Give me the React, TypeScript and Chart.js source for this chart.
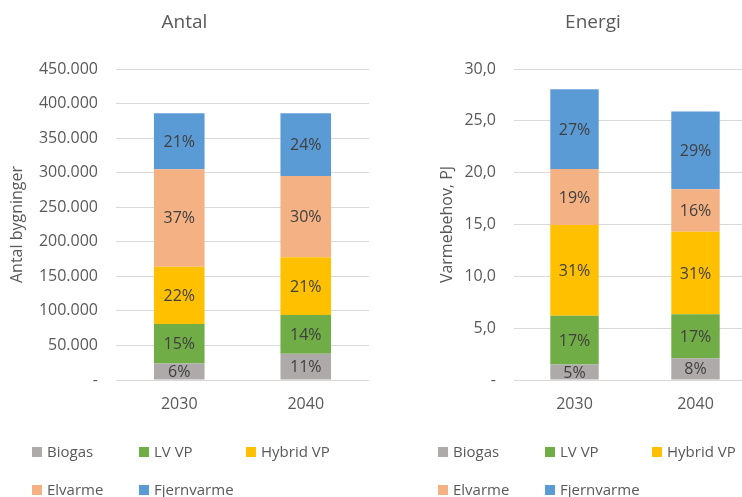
import React, { useEffect, useRef } from 'react';
import { Chart, registerables } from 'chart.js';

Chart.register(...registerables);

const FONT = "'Open Sans', 'DejaVu Sans', sans-serif";
const TEXT = '#595959';
const LABEL = '#404040';
const GRID = '#D9D9D9';

const categories = ['2030', '2040'];
const seriesNames = ['Biogas', 'LV VP', 'Hybrid VP', 'Elvarme', 'Fjernvarme'];
const seriesColors = ['#AEAAAA', '#70AD47', '#FFC000', '#F4B183', '#5B9BD5'];

// Antal (number of buildings)
const antalBiogas = [24000, 38000];
const antalLvVp = [57000, 56000];
const antalHybridVp = [83000, 83500];
const antalElvarme = [141000, 117500];
const antalFjernvarme = [81000, 91000];
const antalPctBiogas = ['6%', '11%'];
const antalPctLvVp = ['15%', '14%'];
const antalPctHybridVp = ['22%', '21%'];
const antalPctElvarme = ['37%', '30%'];
const antalPctFjernvarme = ['21%', '24%'];
const antalAxisMax = 450000;
const antalAxisStep = 50000;

// Energi (PJ)
const energiBiogas = [1.5, 2.1];
const energiLvVp = [4.7, 4.25];
const energiHybridVp = [8.75, 7.95];
const energiElvarme = [5.4, 4.1];
const energiFjernvarme = [7.7, 7.5];
const energiPctBiogas = ['5%', '8%'];
const energiPctLvVp = ['17%', '17%'];
const energiPctHybridVp = ['31%', '31%'];
const energiPctElvarme = ['19%', '16%'];
const energiPctFjernvarme = ['27%', '29%'];
const energiAxisMax = 30;
const energiAxisStep = 5;

const fmtThousands = (v: number) =>
  v === 0 ? '-' : String(Math.round(v)).replace(/\B(?=(\d{3})+(?!\d))/g, '.');
const fmtDecimal = (v: number) => (v === 0 ? '-' : v.toFixed(1).replace('.', ','));

const barLabels = {
  id: 'barLabels',
  afterDatasetsDraw(chart: any) {
    const ctx = chart.ctx;
    ctx.save();
    ctx.font = `16px ${FONT}`;
    ctx.fillStyle = LABEL;
    ctx.textAlign = 'center';
    ctx.textBaseline = 'middle';
    chart.data.datasets.forEach((ds: any, di: number) => {
      const meta = chart.getDatasetMeta(di);
      meta.data.forEach((el: any, i: number) => {
        const { x, y, base } = el.getProps(['x', 'y', 'base'], true);
        ctx.fillText(ds.pctLabels[i], x, (y + base) / 2 + 1);
      });
    });
    ctx.restore();
  },
};

const makeLegend = (startX: number) => ({
  id: 'gridLegend',
  afterDraw(chart: any) {
    const ctx = chart.ctx;
    const bottom = chart.chartArea.bottom;
    ctx.save();
    ctx.font = `15px ${FONT}`;
    ctx.textAlign = 'left';
    ctx.textBaseline = 'middle';
    chart.data.datasets.forEach((ds: any, i: number) => {
      const col = i % 3;
      const row = Math.floor(i / 3);
      const x = startX + col * 107;
      const y = bottom + 72 + row * 38;
      ctx.fillStyle = ds.backgroundColor;
      ctx.fillRect(x, y - 5, 10, 10);
      ctx.fillStyle = TEXT;
      ctx.fillText(ds.label, x + 15, y + 1);
    });
    ctx.restore();
  },
});

function makeConfig(p: {
  title: string;
  yTitle: string;
  series: number[][];
  pcts: string[][];
  max: number;
  step: number;
  fmt: (v: number) => string;
  padLeft: number;
  yWidth: number;
  legendX: number;
}): any {
  return {
    type: 'bar',
    data: {
      labels: categories,
      datasets: seriesNames.map((name, i) => ({
        label: name,
        data: p.series[i],
        pctLabels: p.pcts[i],
        backgroundColor: seriesColors[i],
        borderWidth: 0,
        barPercentage: 0.4,
        categoryPercentage: 1,
      })),
    },
    options: {
      responsive: false,
      animation: false,
      layout: { padding: { left: p.padLeft, right: 2, top: 0, bottom: 77 } },
      plugins: {
        legend: { display: false },
        tooltip: { enabled: false },
        title: {
          display: true,
          text: p.title,
          color: TEXT,
          font: { family: FONT, size: 19, weight: 'normal' },
          padding: { top: 11.6, bottom: 34.6 },
        },
      },
      scales: {
        x: {
          stacked: true,
          grid: { display: false, drawTicks: false },
          border: { display: false },
          ticks: { color: TEXT, font: { family: FONT, size: 16 }, padding: 15 },
          afterFit: (s: any) => {
            s.height = 40;
          },
        },
        y: {
          stacked: true,
          min: 0,
          max: p.max,
          ticks: {
            stepSize: p.step,
            padding: 18,
            color: TEXT,
            font: { family: FONT, size: 16 },
            callback: (v: any) => p.fmt(Number(v)),
          },
          grid: { color: GRID, lineWidth: 1, drawTicks: false },
          border: { display: false },
          title: {
            display: true,
            text: p.yTitle,
            color: TEXT,
            font: { family: FONT, size: 16 },
            padding: { top: 8, bottom: 0 },
          },
          afterFit: (s: any) => {
            s.width = p.yWidth;
          },
        },
      },
    },
    plugins: [barLabels, makeLegend(p.legendX)],
  };
}

export default function App() {
  const leftRef = useRef<HTMLCanvasElement>(null);
  const rightRef = useRef<HTMLCanvasElement>(null);

  useEffect(() => {
    const left = new Chart(
      leftRef.current as HTMLCanvasElement,
      makeConfig({
        title: 'Antal',
        yTitle: 'Antal bygninger',
        series: [antalBiogas, antalLvVp, antalHybridVp, antalElvarme, antalFjernvarme],
        pcts: [antalPctBiogas, antalPctLvVp, antalPctHybridVp, antalPctElvarme, antalPctFjernvarme],
        max: antalAxisMax,
        step: antalAxisStep,
        fmt: fmtThousands,
        padLeft: 0,
        yWidth: 116,
        legendX: 32,
      })
    );
    const right = new Chart(
      rightRef.current as HTMLCanvasElement,
      makeConfig({
        title: 'Energi',
        yTitle: 'Varmebehov, PJ',
        series: [energiBiogas, energiLvVp, energiHybridVp, energiElvarme, energiFjernvarme],
        pcts: [energiPctBiogas, energiPctLvVp, energiPctHybridVp, energiPctElvarme, energiPctFjernvarme],
        max: energiAxisMax,
        step: energiAxisStep,
        fmt: fmtDecimal,
        padLeft: 59,
        yWidth: 84,
        legendX: 67,
      })
    );
    return () => {
      left.destroy();
      right.destroy();
    };
  }, []);

  return (
    <div
      style={{
        position: 'fixed',
        left: 0,
        top: 0,
        width: 742,
        height: 497,
        overflow: 'hidden',
        background: '#ffffff',
      }}
    >
      <canvas
        ref={leftRef}
        width={371}
        height={497}
        style={{ position: 'absolute', left: 0, top: 0, width: 371, height: 497 }}
      />
      <canvas
        ref={rightRef}
        width={387}
        height={497}
        style={{ position: 'absolute', left: 371, top: 0, width: 387, height: 497 }}
      />
    </div>
  );
}
